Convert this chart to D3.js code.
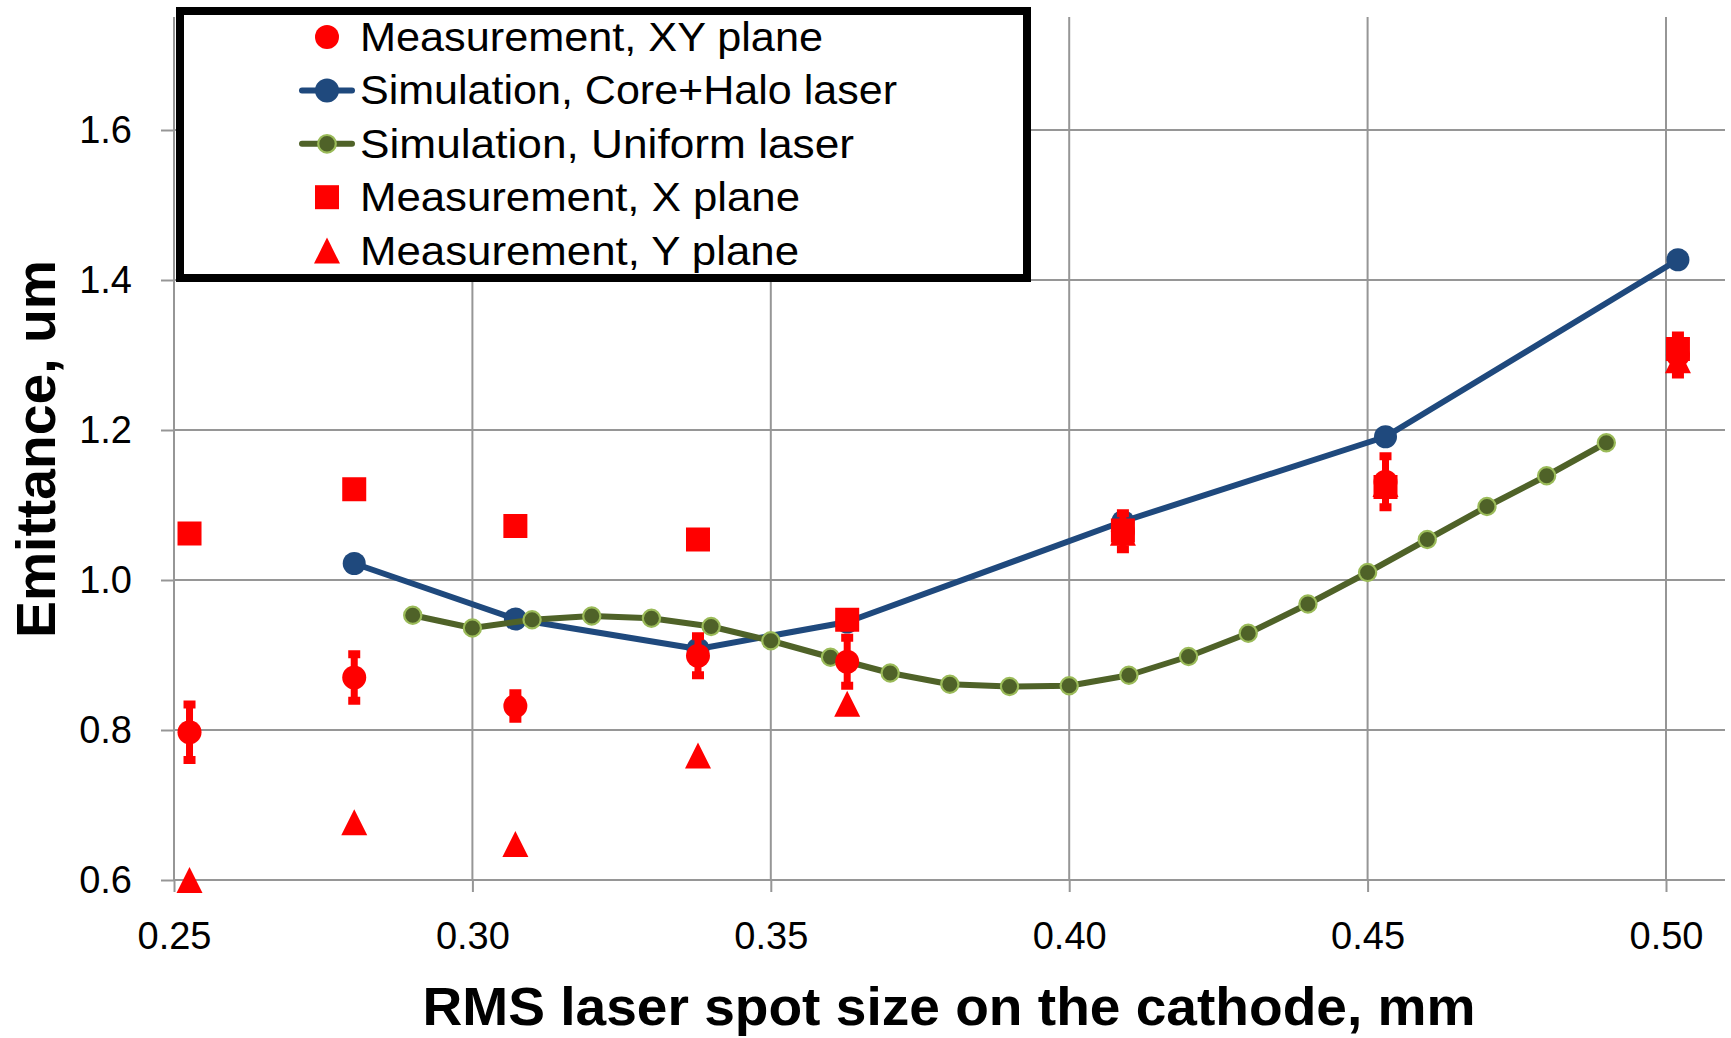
<!DOCTYPE html>
<html>
<head>
<meta charset="utf-8">
<script src="https://cdn.jsdelivr.net/npm/d3@7"></script>
<style>
  html, body { margin: 0; padding: 0; background: #fff; }
  svg { display: block; }
</style>
</head>
<body>
<svg id="chart" width="1731" height="1038"></svg>
<script>
// ---- data ----
const xTicks = [0.25, 0.30, 0.35, 0.40, 0.45, 0.50];
const yTicks = [0.6, 0.8, 1.0, 1.2, 1.4, 1.6];

// measured spot sizes (mm) and emittances (um)
const measSpot   = [0.2526, 0.2802, 0.3072, 0.3378, 0.3628, 0.409, 0.453, 0.502];
const measXY     = [0.797, 0.870, 0.832, 0.899, 0.891, 1.065, 1.131, 1.300];
const measXYErr  = [0.037, 0.031, 0.017, 0.026, 0.032, 0.024, 0.034, 0.026];
const measXPlane = [1.062, 1.121, 1.072, 1.054, 0.947, 1.066, 1.124, 1.308];
const measYPlane = [0.600, 0.677, 0.648, 0.766, 0.835, 1.063, 1.128, 1.293];

// simulation, core + halo laser
const coreHaloSpot = [0.2802, 0.3072, 0.3378, 0.3628, 0.409, 0.453, 0.502];
const coreHaloEmit = [1.022, 0.948, 0.908, 0.944, 1.078, 1.191, 1.427];

// simulation, uniform laser
const uniformSpot = [0.29, 0.30, 0.31, 0.32, 0.33, 0.34, 0.35, 0.36, 0.37, 0.38, 0.39,
                     0.40, 0.41, 0.42, 0.43, 0.44, 0.45, 0.46, 0.47, 0.48, 0.49];
const uniformEmit = [0.953, 0.936, 0.947, 0.952, 0.949, 0.938, 0.919, 0.897, 0.876, 0.861, 0.858,
                     0.859, 0.873, 0.898, 0.929, 0.968, 1.010, 1.054, 1.098, 1.139, 1.183];

const legendLabels = [
  "Measurement, XY plane",
  "Simulation, Core+Halo laser",
  "Simulation, Uniform laser",
  "Measurement, X plane",
  "Measurement, Y plane"
];

const xTitle = "RMS laser spot size on the cathode, mm";
const yTitle = "Emittance, um";

// ---- styles ----
const RED = "#FF0000", BLUE = "#1F497D", GREEN = "#4F6228", GREEN_EDGE = "#9BBB59";
const GRID = "#969696";
const tickFont = "'Liberation Sans', Arial, sans-serif";

const svg = d3.select("#chart");
const plot = { left: 174, right: 1725, top: 17, bottom: 880 };

const x = d3.scaleLinear().domain([0.25, 0.50]).range([174, 1666]);
const y = d3.scaleLinear().domain([0.6, 1.6]).range([880, 130]);

// ---- grid ----
const grid = svg.append("g");
grid.selectAll("line.h").data(yTicks).join("line")
  .attr("x1", plot.left).attr("x2", plot.right)
  .attr("y1", d => y(d)).attr("y2", d => y(d))
  .attr("stroke", GRID).attr("stroke-width", 2);
grid.selectAll("line.v").data(xTicks).join("line")
  .attr("x1", d => x(d)).attr("x2", d => x(d))
  .attr("y1", plot.top).attr("y2", plot.bottom)
  .attr("stroke", GRID).attr("stroke-width", 2);

// ---- axes ----
const yAxis = svg.append("g").attr("transform", `translate(${plot.left},0)`)
  .call(d3.axisLeft(y).tickValues(yTicks).tickSize(13).tickPadding(29)
        .tickFormat(d3.format(".1f")));
const xAxis = svg.append("g").attr("transform", `translate(0,${plot.bottom})`)
  .call(d3.axisBottom(x).tickValues(xTicks).tickSize(12).tickPadding(30)
        .tickFormat(d3.format(".2f")));
[yAxis, xAxis].forEach(g => {
  g.select(".domain").remove();
  g.selectAll(".tick line").attr("stroke", GRID).attr("stroke-width", 2);
  g.selectAll(".tick text").attr("fill", "#000")
    .style("font-family", tickFont).style("font-size", "38px");
});

// ---- simulation lines ----
const line = d3.line().x(d => x(d[0])).y(d => y(d[1]));
const coreHalo = coreHaloSpot.map((s, i) => [s, coreHaloEmit[i]]);
const uniform = uniformSpot.map((s, i) => [s, uniformEmit[i]]);

svg.append("path").datum(coreHalo).attr("d", line)
  .attr("fill", "none").attr("stroke", BLUE).attr("stroke-width", 6)
  .attr("stroke-linejoin", "round");
svg.append("g").selectAll("circle").data(coreHalo).join("circle")
  .attr("cx", d => x(d[0])).attr("cy", d => y(d[1])).attr("r", 11.5)
  .attr("fill", BLUE);

svg.append("path").datum(uniform).attr("d", line)
  .attr("fill", "none").attr("stroke", GREEN).attr("stroke-width", 6)
  .attr("stroke-linejoin", "round");
svg.append("g").selectAll("circle").data(uniform).join("circle")
  .attr("cx", d => x(d[0])).attr("cy", d => y(d[1])).attr("r", 8.6)
  .attr("fill", GREEN).attr("stroke", GREEN_EDGE).attr("stroke-width", 2.2);

// ---- measurements ----
const meas = measSpot.map((s, i) => ({
  s, xy: measXY[i], err: measXYErr[i], xp: measXPlane[i], yp: measYPlane[i]
}));
const triPath = "M0,-13L13,13L-13,13Z";

// X plane squares
svg.append("g").selectAll("rect").data(meas).join("rect")
  .attr("x", d => x(d.s) - 12).attr("y", d => y(d.xp) - 12)
  .attr("width", 24).attr("height", 24).attr("fill", RED);

// Y plane triangles
svg.append("g").selectAll("path").data(meas).join("path")
  .attr("d", triPath)
  .attr("transform", d => `translate(${x(d.s)},${y(d.yp)})`)
  .attr("fill", RED);

// XY plane circles with error bars
const eb = svg.append("g").selectAll("g").data(meas).join("g");
eb.append("rect")
  .attr("x", d => x(d.s) - 3.5).attr("y", d => y(d.xy + d.err))
  .attr("width", 7).attr("height", d => y(d.xy - d.err) - y(d.xy + d.err))
  .attr("fill", RED);
eb.append("rect")
  .attr("x", d => x(d.s) - 6).attr("y", d => y(d.xy + d.err) - 4)
  .attr("width", 12).attr("height", 8).attr("fill", RED);
eb.append("rect")
  .attr("x", d => x(d.s) - 6).attr("y", d => y(d.xy - d.err) - 4)
  .attr("width", 12).attr("height", 8).attr("fill", RED);
eb.append("circle")
  .attr("cx", d => x(d.s)).attr("cy", d => y(d.xy)).attr("r", 12)
  .attr("fill", RED);

// ---- legend ----
const lg = svg.append("g");
lg.append("rect").attr("x", 180).attr("y", 11).attr("width", 847).attr("height", 267)
  .attr("fill", "#fff").attr("stroke", "#000").attr("stroke-width", 8);

const rowY = i => 37 + i * 53.4;
const symX = 327;
const labelWidths = [463, 537, 494, 440, 439];
legendLabels.forEach((label, i) => {
  const cy = rowY(i);
  const g = lg.append("g");
  if (i === 0) {
    g.append("circle").attr("cx", symX).attr("cy", cy).attr("r", 12).attr("fill", RED);
  } else if (i === 1) {
    g.append("line").attr("x1", 302).attr("x2", 352).attr("y1", cy).attr("y2", cy)
      .attr("stroke", BLUE).attr("stroke-width", 6).attr("stroke-linecap", "round");
    g.append("circle").attr("cx", symX).attr("cy", cy).attr("r", 12).attr("fill", BLUE);
  } else if (i === 2) {
    g.append("line").attr("x1", 302).attr("x2", 352).attr("y1", cy).attr("y2", cy)
      .attr("stroke", GREEN).attr("stroke-width", 6).attr("stroke-linecap", "round");
    g.append("circle").attr("cx", symX).attr("cy", cy).attr("r", 8.8)
      .attr("fill", GREEN).attr("stroke", GREEN_EDGE).attr("stroke-width", 2.2);
  } else if (i === 3) {
    g.append("rect").attr("x", symX - 12).attr("y", cy - 12).attr("width", 24).attr("height", 24)
      .attr("fill", RED);
  } else {
    g.append("path").attr("d", triPath).attr("transform", `translate(${symX},${cy})`)
      .attr("fill", RED);
  }
  g.append("text").attr("x", 360).attr("y", cy + 14)
    .attr("textLength", labelWidths[i]).attr("lengthAdjust", "spacingAndGlyphs")
    .style("font-family", tickFont).style("font-size", "40px").attr("fill", "#000")
    .text(label);
});

// ---- axis titles ----
svg.append("text").attr("x", 949).attr("y", 1025)
  .attr("text-anchor", "middle")
  .attr("textLength", 1053).attr("lengthAdjust", "spacingAndGlyphs")
  .style("font-family", tickFont).style("font-size", "54px").style("font-weight", "bold")
  .attr("fill", "#000").text(xTitle);

svg.append("text").attr("transform", "translate(55,449) rotate(-90)")
  .attr("text-anchor", "middle")
  .attr("textLength", 378).attr("lengthAdjust", "spacingAndGlyphs")
  .style("font-family", tickFont).style("font-size", "55px").style("font-weight", "bold")
  .attr("fill", "#000").text(yTitle);
</script>
</body>
</html>
